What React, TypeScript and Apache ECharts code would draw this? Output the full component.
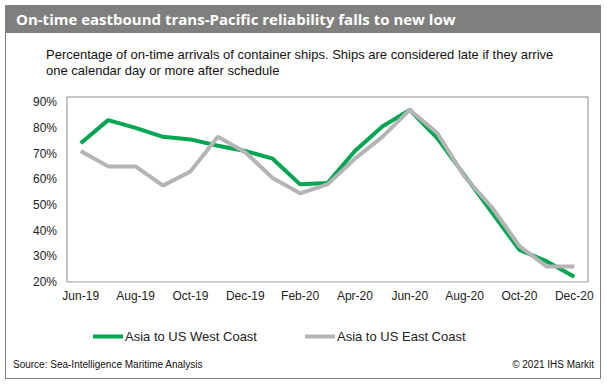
import React, { useEffect, useRef } from "react";
import * as echarts from "echarts";

const months = [
  "Jun-19", "Jul-19", "Aug-19", "Sep-19", "Oct-19", "Nov-19", "Dec-19",
  "Jan-20", "Feb-20", "Mar-20", "Apr-20", "May-20", "Jun-20", "Jul-20",
  "Aug-20", "Sep-20", "Oct-20", "Nov-20", "Dec-20",
];
const westCoast = [74, 83, 80, 76.5, 75.5, 73, 71, 68, 58, 58.5, 71, 80.5, 87, 76, 61.5, 47, 32.5, 28, 22];
const eastCoast = [71, 65, 65, 57.5, 63, 76.5, 70.5, 60.5, 54.5, 58, 68, 76.5, 87, 78, 61, 49, 34, 26, 26];
const seriesNames = ["Asia to US West Coast", "Asia to US East Coast"];
const titleText = "On-time eastbound trans-Pacific reliability falls to new low";
const subtitleLines = [
  "Percentage of on-time arrivals of container ships. Ships are considered late if they arrive",
  "one calendar day or more after schedule",
];
const sourceText = "Source: Sea-Intelligence Maritime Analysis";
const copyrightText = "© 2021 IHS Markit";

const FONT = "'Liberation Sans', Arial, sans-serif";

export default function App() {
  const ref = useRef<HTMLDivElement>(null);
  useEffect(() => {
    if (!ref.current) return;
    const chart = echarts.init(ref.current, undefined, { renderer: "svg" });
    chart.setOption({
      animation: false,
      backgroundColor: "#ffffff",
      textStyle: { fontFamily: FONT },
      grid: {
        left: 67,
        right: 19,
        top: 97,
        bottom: 108,
        show: true,
        borderColor: "#8c8c8c",
        borderWidth: 1,
      },
      legend: {
        left: 88,
        top: 325,
        itemWidth: 30,
        itemHeight: 4,
        itemGap: 48,
        icon: "rect",
        textStyle: { fontFamily: FONT, fontSize: 13, color: "#222", padding: [0, 0, 0, -3] },
        data: seriesNames,
      },
      xAxis: {
        type: "category",
        data: months,
        boundaryGap: true,
        axisLine: { show: true, lineStyle: { color: "#d9d9d9", width: 1 } },
        axisTick: { show: false },
        axisLabel: {
          interval: 1,
          fontFamily: FONT,
          fontSize: 12,
          color: "#222",
          margin: 8,
        },
      },
      yAxis: {
        type: "value",
        min: 20,
        max: 92,
        interval: 10,
        axisLine: { show: false },
        axisTick: { show: false },
        splitLine: { show: false },
        axisLabel: {
          showMaxLabel: false,
          fontFamily: FONT,
          fontSize: 12,
          color: "#222",
          margin: 10,
          formatter: (v: number) => (v % 10 === 0 ? v + "%" : ""),
        },
      },
      series: [
        {
          name: seriesNames[0],
          type: "line",
          data: westCoast,
          symbol: "none",
          lineStyle: { width: 4, color: "#00a651" },
          itemStyle: { color: "#00a651" },
        },
        {
          name: seriesNames[1],
          type: "line",
          data: eastCoast,
          symbol: "none",
          lineStyle: { width: 4, color: "#b4b4b4" },
          itemStyle: { color: "#b4b4b4" },
        },
      ],
      graphic: [
        {
          type: "rect",
          shape: { x: 5.5, y: 5.5, width: 595, height: 373 },
          style: { fill: "none", stroke: "#7f7f7f", lineWidth: 1 },
          silent: true,
          z: -1,
        },
        {
          type: "rect",
          shape: { x: 5, y: 5, width: 596, height: 28 },
          style: { fill: "#7f807e" },
          silent: true,
        },
        {
          type: "text",
          x: 16,
          y: 19,
          style: {
            text: titleText,
            fill: "#ffffff",
            font: "bold 15px 'Open Sans', sans-serif",
            verticalAlign: "middle",
          },
        },
        {
          type: "text",
          x: 46,
          y: 54,
          style: {
            text: subtitleLines[0],
            fill: "#111",
            font: "13px " + FONT,
            verticalAlign: "middle",
          },
        },
        {
          type: "text",
          x: 46,
          y: 70,
          style: {
            text: subtitleLines[1],
            fill: "#111",
            font: "13px " + FONT,
            verticalAlign: "middle",
          },
        },
        {
          type: "text",
          x: 13,
          y: 364,
          style: {
            text: sourceText,
            fill: "#111",
            font: "10px " + FONT,
            verticalAlign: "middle",
          },
        },
        {
          type: "text",
          x: 594,
          y: 364,
          style: {
            text: copyrightText,
            fill: "#111",
            font: "10px " + FONT,
            verticalAlign: "middle",
            align: "right",
          },
        },
      ],
    });
    return () => chart.dispose();
  }, []);
  return (
    <div
      ref={ref}
      style={{ position: "fixed", left: 0, top: 0, width: 607, height: 390 }}
    />
  );
}
